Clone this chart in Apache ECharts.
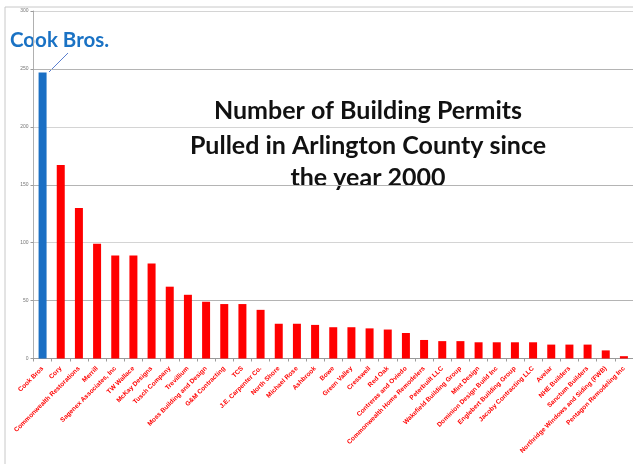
<!DOCTYPE html>
<html><head><meta charset="utf-8">
<script src="https://cdn.jsdelivr.net/npm/echarts@6/dist/echarts.min.js"></script>
<style>html,body{margin:0;padding:0;background:#fff}#c{width:633px;height:464px}</style>
</head><body><div id="c"></div>
<script>
const categories = ["Cook Bros","Cory","Commonwealth Restorations","Merrill","Sagenex Associates, Inc","TW Wallace","McKay Designs","Tusch Company","Trevillium","Moss Building and Design","G&M Contracting","TCS","J.E. Carpenter Co.","North Shore","Michael Rose","Ashbrook","Bowe","Green Valley","Cresswell","Red Oak","Contreras and Oviedo","Commonwealth Home Remodelers","Peterbuilt LLC","Wakefield Building Group","Mint Design","Dominion Design Build Inc","Englebert Building Group","Jacoby Contracting LLC","Avelar","NHE Builders","Sanctum Builders","Northridge Windows and Siding (FWB)","Pentagon Remodeling Inc"];
const permits = [247,167,130,99,89,89,82,62,55,49,47,47,42,30,30,29,27,27,26,25,22,16,15,15,14,14,14,14,12,12,12,7,2];
const yTicks = [0,50,100,150,200,250,300];
const highlightName = "Cook Bros.";
const titleLines = ["Number of Building Permits","Pulled in Arlington County since","the year 2000"];

const chart = echarts.init(document.getElementById('c'));
chart.setOption({
  animation:false,
  backgroundColor:'#fff',
  grid:{left:33.5, top:11, width:605, height:347.5},
  xAxis:{type:'category', data:categories,
    axisLine:{lineStyle:{color:'#9a9a9a'}},
    axisTick:{show:true, alignWithLabel:false, length:3, lineStyle:{color:'#9a9a9a'}},
    axisLabel:{rotate:45, interval:0, color:'#ff0000', fontSize:6.5, fontWeight:'bold', fontFamily:'Liberation Sans', margin:9}},
  yAxis:{type:'value', min:0, max:300, interval:50,
    axisLine:{show:true, lineStyle:{color:'#b0b0b0'}},
    axisTick:{show:true, length:3, lineStyle:{color:'#9a9a9a'}},
    axisLabel:{color:'#777', fontSize:5, margin:5, fontFamily:'Liberation Sans'},
    splitLine:{lineStyle:{color:['#d4d4d4','#b4b4b4'], width:1.2}}},
  series:[{type:'bar', barWidth:'44%',
    data: permits.map((v,i)=> i===0 ? {value:v, itemStyle:{color:'#1a6fc4'}} : v),
    itemStyle:{color:'#ff0000'}}],
  graphic:[
    {type:'polyline', shape:{points:[[5,464],[5,7],[633,7]]}, style:{stroke:'#c8c8c8', lineWidth:1, fill:null}},
    {type:'text', x:10, y:40, style:{text:highlightName, fill:'#1a72c4', font:'bold 20.5px Lato', verticalAlign:'middle'}},
    {type:'line', shape:{x1:68, y1:53, x2:49, y2:72}, style:{stroke:'#5b7fcf', lineWidth:1}},
    {type:'text', x:368, y:111, style:{text:titleLines[0], fill:'#111', font:'bold 25px Lato', align:'center', verticalAlign:'middle'}},
    {type:'text', x:368, y:145.5, style:{text:titleLines[1], fill:'#111', font:'bold 25px Lato', align:'center', verticalAlign:'middle'}},
    {type:'text', x:368, y:178, style:{text:titleLines[2], fill:'#111', font:'bold 25px Lato', align:'center', verticalAlign:'middle'}}
  ]
});
</script></body></html>
